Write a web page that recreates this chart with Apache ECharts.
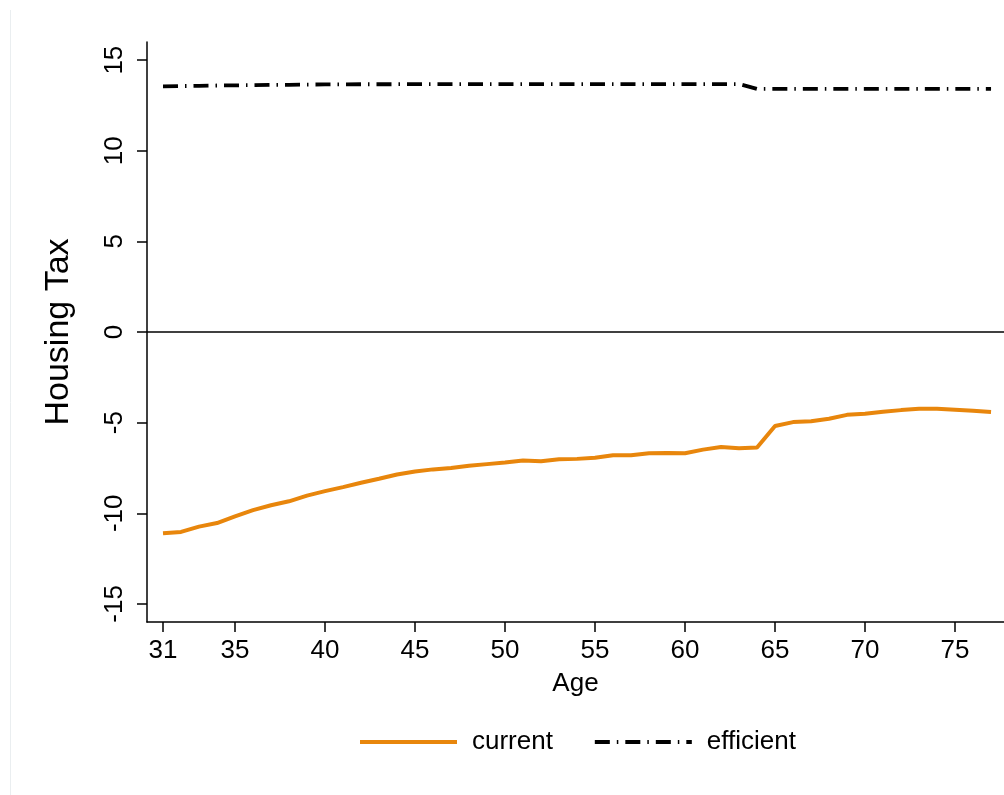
<!DOCTYPE html>
<html>
<head>
<meta charset="utf-8">
<script src="https://cdn.jsdelivr.net/npm/echarts@6/dist/echarts.min.js"></script>
<style>html,body{margin:0;padding:0;background:#fff;}#chart{width:1004px;height:795px;}</style>
</head>
<body>
<div id="chart"></div>
<script>
const ages = [31,32,33,34,35,36,37,38,39,40,41,42,43,44,45,46,47,48,49,50,51,52,53,54,55,56,57,58,59,60,61,62,63,64,65,66,67,68,69,70,71,72,73,74,75,76,77];
const current = [-11.1,-11.03,-10.74,-10.54,-10.17,-9.83,-9.56,-9.34,-9.03,-8.78,-8.56,-8.32,-8.1,-7.86,-7.7,-7.58,-7.5,-7.38,-7.29,-7.2,-7.09,-7.13,-7.02,-7.0,-6.94,-6.8,-6.8,-6.69,-6.67,-6.69,-6.49,-6.35,-6.41,-6.37,-5.19,-4.97,-4.92,-4.79,-4.57,-4.51,-4.4,-4.31,-4.24,-4.24,-4.29,-4.35,-4.42];
const efficient = [13.55,13.57,13.58,13.6,13.61,13.62,13.63,13.64,13.65,13.66,13.66,13.67,13.67,13.67,13.68,13.68,13.68,13.68,13.68,13.68,13.68,13.68,13.68,13.68,13.68,13.68,13.68,13.68,13.68,13.68,13.68,13.68,13.68,13.41,13.41,13.41,13.41,13.41,13.41,13.41,13.41,13.41,13.41,13.41,13.41,13.41,13.41];
const xTicks = [31,35,40,45,50,55,60,65,70,75];
const yTicks = [-15,-10,-5,0,5,10,15];

const font = 'Liberation Sans, Arial, sans-serif';
const chart = echarts.init(document.getElementById('chart'), null, {renderer: 'canvas'});
chart.setOption({
  animation: false,
  backgroundColor: '#ffffff',
  graphic: [{
    type: 'line', shape: {x1: 10.5, y1: 10, x2: 10.5, y2: 795},
    style: {stroke: '#eaeef0', lineWidth: 1}
  }],
  grid: {left: 147, right: 0, top: 42, bottom: 173, containLabel: false},
  xAxis: {
    type: 'value', min: 30.111, max: 77.72,
    name: 'Age', nameLocation: 'middle', nameGap: 49,
    nameTextStyle: {fontFamily: font, fontSize: 26, color: '#000'},
    axisLine: {show: true, onZero: false, lineStyle: {color: '#000', width: 1.5}},
    axisTick: {show: true, length: 10, customValues: xTicks, lineStyle: {color: '#000', width: 1.5}},
    axisLabel: {customValues: xTicks, fontFamily: font, fontSize: 26, color: '#000', margin: 16},
    splitLine: {show: false}
  },
  yAxis: {
    type: 'value', min: -16, max: 16,
    name: 'Housing Tax', nameLocation: 'middle', nameGap: 71,
    nameTextStyle: {fontFamily: font, fontSize: 34, color: '#000'},
    axisLine: {show: true, onZero: false, lineStyle: {color: '#000', width: 1.5}},
    axisTick: {show: true, length: 10, customValues: yTicks, lineStyle: {color: '#000', width: 1.5}},
    axisLabel: {customValues: yTicks, rotate: 90, fontFamily: font, fontSize: 26, color: '#000', margin: 19},
    splitLine: {show: false}
  },
  legend: {
    left: 353, top: 724,
    itemWidth: 97, itemHeight: 14, itemGap: 40,
    itemStyle: {opacity: 0},
    lineStyle: {width: 'inherit'},
    textStyle: {fontFamily: font, fontSize: 26, color: '#000', padding: [0, 0, 0, 10]},
    data: ['current', 'efficient']
  },
  series: [
    {
      name: 'current', type: 'line', showSymbol: false, symbol: 'none',
      data: ages.map((a, i) => [a, current[i]]),
      lineStyle: {color: '#e8860c', width: 4},
      itemStyle: {color: '#e8860c'},
      markLine: {
        silent: true, symbol: 'none', label: {show: false},
        lineStyle: {color: '#000', width: 1.5, type: 'solid'},
        data: [{yAxis: 0}]
      }
    },
    {
      name: 'efficient', type: 'line', showSymbol: false, symbol: 'none',
      data: ages.map((a, i) => [a, efficient[i]]),
      lineStyle: {color: '#000', width: 3.8, type: [15, 7, 1.5, 7]},
      itemStyle: {color: '#000'}
    }
  ]
});
</script>
</body>
</html>
